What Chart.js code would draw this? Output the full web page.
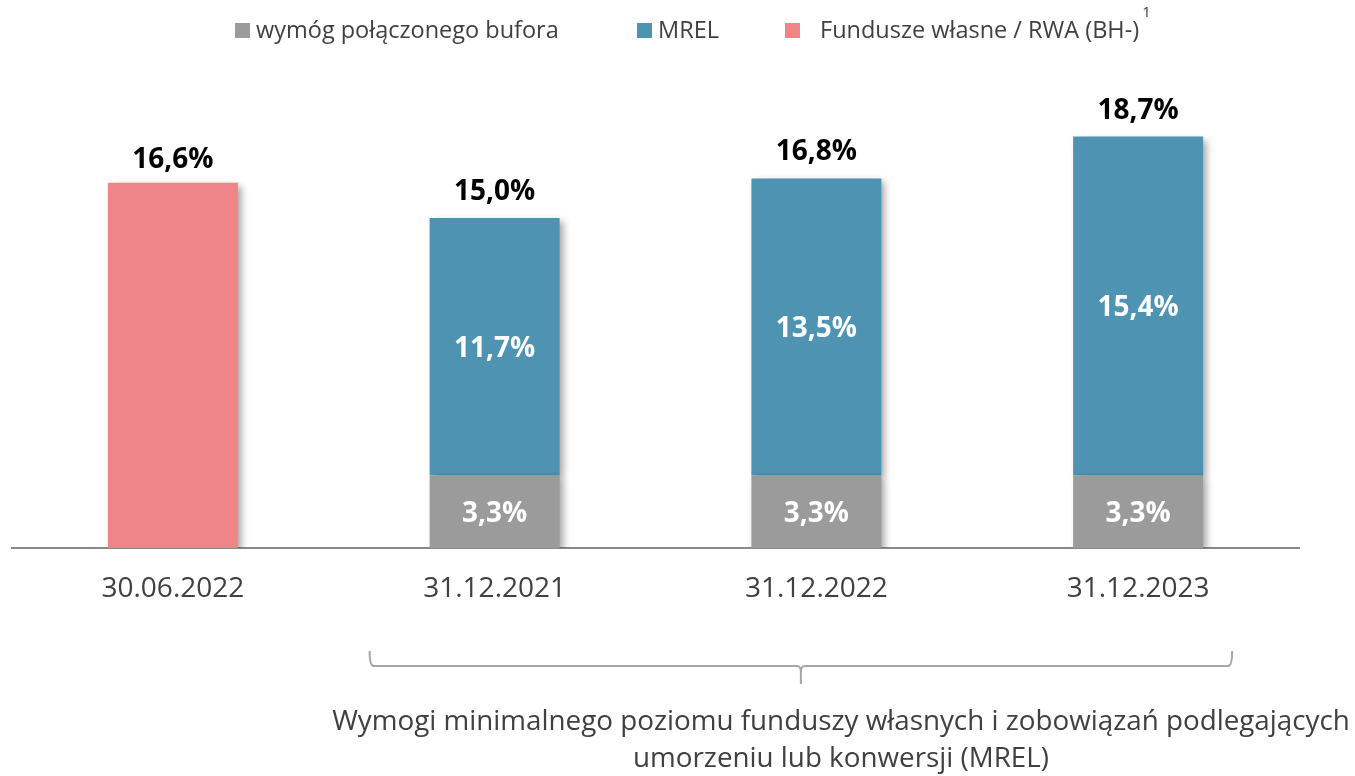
<!DOCTYPE html>
<html lang="pl">
<head>
<meta charset="utf-8">
<script src="https://cdn.jsdelivr.net/npm/chart.js@4"></script>
<style>
    body { margin: 0; background: #fff; }
    #wrap { width: 1355px; height: 776px; position: relative; }
</style>
</head>
<body>
<div id="wrap"><canvas id="mrelChart"></canvas></div>
<script>
// dates on the x axis
const categories = ['30.06.2022', '31.12.2021', '31.12.2022', '31.12.2023'];
// combined buffer requirement (bottom part of the stack)
const buforValues = [null, 3.3, 3.3, 3.3];
// MREL requirement on top of the buffer
const mrelValues = [null, 11.7, 13.5, 15.4];
// own funds / RWA, first bar only
const funduszeValues = [16.6, null, null, null];
// totals shown above each bar
const totalValues = [16.6, 15.0, 16.8, 18.7];

const legendItems = [
    { text: 'wymóg połączonego bufora', color: '#9b9b9b', box: 235, label: 256 },
    { text: 'MREL', color: '#4e94b2', box: 637, label: 658 },
    { text: 'Fundusze własne / RWA (BH-)', color: '#ef8588', box: 785, label: 820, sup: '1' }
];
const captionLines = [
    'Wymogi minimalnego poziomu funduszy własnych i zobowiązań podlegających',
    'umorzeniu lub konwersji (MREL)'
];

const FONT = '"Open Sans", "Noto Sans", sans-serif';
const fmt = v => v.toFixed(1).replace('.', ',') + '%';

// soft shadow under every bar
const barShadow = {
    id: 'barShadow',
    beforeDatasetDraw(chart) {
        const ctx = chart.ctx;
        ctx.save();
        ctx.shadowColor = 'rgba(0,0,0,0.35)';
        ctx.shadowBlur = 7;
        ctx.shadowOffsetX = 4;
        ctx.shadowOffsetY = 3;
    },
    afterDatasetDraw(chart) {
        chart.ctx.restore();
    }
};

// values inside segments and totals on top
const barLabels = {
    id: 'barLabels',
    afterDatasetsDraw(chart) {
        const ctx = chart.ctx;
        ctx.save();
        ctx.textAlign = 'center';
        ctx.textBaseline = 'middle';
        ctx.fillStyle = '#ffffff';
        ctx.font = 'bold 28px ' + FONT;
        [0, 1].forEach(di => {
            const meta = chart.getDatasetMeta(di);
            const data = chart.data.datasets[di].data;
            meta.data.forEach((bar, i) => {
                if (data[i] == null) return;
                const mid = (bar.y + bar.base) / 2;
                ctx.fillText(fmt(data[i]), bar.x, mid + 2);
            });
        });
        ctx.fillStyle = '#000000';
        ctx.textBaseline = 'alphabetic';
        const yScale = chart.scales.y;
        const xScale = chart.scales.x;
        totalValues.forEach((v, i) => {
            const top = yScale.getPixelForValue(v);
            ctx.fillText(fmt(v), xScale.getPixelForValue(i), top - (i === 0 ? 15 : 18));
        });
        ctx.restore();
    }
};

// legend row, bracket and caption under the axis
const extras = {
    id: 'extras',
    afterDraw(chart) {
        const ctx = chart.ctx;
        ctx.save();
        const legendFont = '23.5px ' + FONT;
        ctx.font = legendFont;
        ctx.textBaseline = 'middle';
        ctx.textAlign = 'left';
        legendItems.forEach(item => {
            ctx.fillStyle = item.color;
            ctx.fillRect(item.box, 23, 15, 15);
            ctx.fillStyle = '#404040';
            ctx.fillText(item.text, item.label, 31);
            if (item.sup) {
                const w = ctx.measureText(item.text).width;
                ctx.font = '15px ' + FONT;
                ctx.fillText(item.sup, item.label + w + 3, 13);
                ctx.font = legendFont;
            }
        });

        const xScale = chart.scales.x;
        const left = xScale.getPixelForValue(1) - 125;
        const right = xScale.getPixelForValue(3) + 94;
        const mid = (left + right) / 2;
        ctx.strokeStyle = '#a6a6a6';
        ctx.lineWidth = 2;
        ctx.beginPath();
        ctx.moveTo(left, 651);
        ctx.quadraticCurveTo(left, 666, left + 4, 666);
        ctx.lineTo(mid - 4, 666);
        ctx.quadraticCurveTo(mid, 666, mid, 672);
        ctx.lineTo(mid, 684);
        ctx.moveTo(mid, 672);
        ctx.quadraticCurveTo(mid, 666, mid + 4, 666);
        ctx.lineTo(right - 4, 666);
        ctx.quadraticCurveTo(right, 666, right, 651);
        ctx.stroke();

        ctx.fillStyle = '#404040';
        ctx.font = '27.8px ' + FONT;
        ctx.textAlign = 'center';
        ctx.fillText(captionLines[0], 841, 722);
        ctx.fillText(captionLines[1], 841, 759);
        ctx.restore();
    }
};

new Chart(document.getElementById('mrelChart'), {
    type: 'bar',
    data: {
        labels: categories,
        datasets: [
            { label: 'wymóg połączonego bufora', data: buforValues, backgroundColor: '#9b9b9b' },
            { label: 'MREL', data: mrelValues, backgroundColor: '#4e94b2' },
            { label: 'Fundusze własne / RWA (BH-)', data: funduszeValues, backgroundColor: '#ef8588' }
        ]
    },
    options: {
        responsive: true,
        maintainAspectRatio: false,
        animation: false,
        layout: { padding: { left: 12, right: 56, top: 108, bottom: 0 } },
        datasets: { bar: { categoryPercentage: 1, barPercentage: 0.404 } },
        plugins: {
            legend: { display: false },
            tooltip: { enabled: false }
        },
        scales: {
            x: {
                stacked: true,
                grid: { display: false, drawTicks: false },
                border: { display: true, color: '#8a8a8a', width: 2 },
                ticks: { color: '#404040', font: { family: FONT, size: 28 }, padding: 24 },
                afterFit(scale) { scale.height = 228; }
            },
            y: {
                stacked: true,
                display: false,
                min: 0,
                max: 20
            }
        }
    },
    plugins: [barShadow, barLabels, extras]
});
</script>
</body>
</html>
